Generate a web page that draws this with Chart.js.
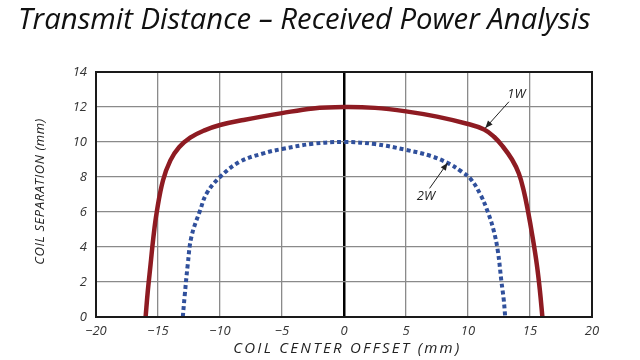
<!DOCTYPE html>
<html>
<head>
<meta charset="utf-8">
<script src="https://cdn.jsdelivr.net/npm/chart.js@4.4.1/dist/chart.umd.min.js"></script>
<style>
  html, body { margin: 0; padding: 0; background: #fff; }
  #wrap { width: 640px; height: 360px; }
</style>
</head>
<body>
<div id="wrap"><canvas id="chart" width="640" height="360"></canvas></div>
<script>
// chart data
const titleText = 'Transmit Distance \u2013 Received Power Analysis';
const xTitle = 'COIL CENTER OFFSET (mm)';
const yTitle = 'COIL SEPARATION (mm)';
const xTicks = [-20, -15, -10, -5, 0, 5, 10, 15, 20];
const yTicks = [0, 2, 4, 6, 8, 10, 12, 14];

// 1W curve (solid red)
const oneWX = [-16, -15.82, -15.6, -15.38, -15.1, -14.6, -14.0, -13.3, -12.4, -11.3, -10, -8.1, -5, -2.5, 0, 2.5, 5, 7.5, 10, 11.3, 12.1, 12.8, 13.55, 14.1, 14.5, 14.85, 15.2, 15.55, 15.8, 16];
const oneWY = [0, 1.5, 3, 4.5, 6, 7.8, 8.95, 9.7, 10.25, 10.65, 10.97, 11.26, 11.65, 11.92, 12, 11.95, 11.75, 11.45, 11.03, 10.72, 10.3, 9.75, 9.0, 8.2, 7.2, 6.0, 4.6, 3, 1.5, 0];

// 2W curve (dotted blue)
const twoWX = [-13, -12.85, -12.6, -12.3, -11.6, -11.07, -10, -8.4, -6.5, -5, -2.5, 0, 2.5, 5, 7, 8.5, 9.5, 10.2, 11, 11.6, 12.05, 12.4, 12.7, 12.88, 13];
const twoWY = [0, 1.2, 3, 4.6, 6.1, 7.07, 8, 8.87, 9.35, 9.6, 9.9, 10, 9.88, 9.55, 9.2, 8.75, 8.3, 7.9, 7, 6, 5, 3.8, 2, 1, 0];

// callout labels: [text, textX, textY, arrowFromX, arrowFromY, arrowToX, arrowToY]
const callouts = [
    ['1W', 13.9, 12.75, 13.3, 12.3, 11.4, 10.8],
    ['2W', 6.6, 6.9, 6.9, 7.35, 8.35, 8.8]
];

const RED = '#8e1b22';
const BLUE = '#30509c';
const FONT = '"Open Sans", "DejaVu Sans", sans-serif';

const toPoints = (xs, ys) => xs.map((x, i) => ({ x: x, y: ys[i] }));

// fit a text to a target width with letter spacing
function spacedText(ctx, text, x, y, targetWidth) {
    ctx.letterSpacing = '0px';
    const w = ctx.measureText(text).width;
    const extra = Math.max(0, (targetWidth - w) / (text.length - 1));
    ctx.letterSpacing = extra.toFixed(2) + 'px';
    ctx.fillText(text, x + extra / 2, y);
    ctx.letterSpacing = '0px';
}

const decorPlugin = {
    id: 'decor',
    beforeDraw(chart) {
        const ctx = chart.ctx;
        ctx.save();
        ctx.fillStyle = '#fff';
        ctx.fillRect(0, 0, chart.width, chart.height);
        ctx.restore();
    },
    afterDatasetsDraw(chart) {
        const ctx = chart.ctx;
        const area = chart.chartArea;
        const xs = chart.scales.x;
        const ys = chart.scales.y;
        ctx.save();

        // frame
        ctx.strokeStyle = '#1a1a1a';
        ctx.lineWidth = 2;
        ctx.strokeRect(area.left, area.top, area.right - area.left, area.bottom - area.top);

        // callouts
        ctx.fillStyle = '#222';
        ctx.strokeStyle = '#222';
        ctx.lineWidth = 1;
        ctx.font = 'italic 13px ' + FONT;
        ctx.textAlign = 'center';
        ctx.textBaseline = 'middle';
        callouts.forEach(c => {
            ctx.fillText(c[0], xs.getPixelForValue(c[1]), ys.getPixelForValue(c[2]));
            const x1 = xs.getPixelForValue(c[3]), y1 = ys.getPixelForValue(c[4]);
            const x2 = xs.getPixelForValue(c[5]), y2 = ys.getPixelForValue(c[6]);
            ctx.beginPath();
            ctx.moveTo(x1, y1);
            ctx.lineTo(x2, y2);
            ctx.stroke();
            const ang = Math.atan2(y2 - y1, x2 - x1);
            ctx.beginPath();
            ctx.moveTo(x2, y2);
            ctx.lineTo(x2 - 8 * Math.cos(ang - 0.4), y2 - 8 * Math.sin(ang - 0.4));
            ctx.lineTo(x2 - 8 * Math.cos(ang + 0.4), y2 - 8 * Math.sin(ang + 0.4));
            ctx.closePath();
            ctx.fill();
        });

        // title
        ctx.textAlign = 'left';
        ctx.textBaseline = 'alphabetic';
        ctx.fillStyle = '#111';
        ctx.font = 'italic 26px ' + FONT;
        const w = ctx.measureText(titleText).width;
        const size = 26 * 572 / w;
        ctx.font = 'italic ' + size.toFixed(1) + 'px ' + FONT;
        ctx.fillText(titleText, 18, 29);

        // axis titles
        ctx.fillStyle = '#222';
        ctx.textAlign = 'left';
        ctx.textBaseline = 'middle';
        ctx.font = 'italic 15px ' + FONT;
        spacedText(ctx, xTitle, 232, 349, 226);
        ctx.translate(40, 265);
        ctx.rotate(-Math.PI / 2);
        ctx.font = 'italic 13px ' + FONT;
        spacedText(ctx, yTitle, 0, 0, 146);
        ctx.restore();
    }
};

new Chart(document.getElementById('chart'), {
    type: 'scatter',
    data: {
        datasets: [
            {
                label: '1W',
                data: toPoints(oneWX, oneWY),
                showLine: true,
                borderColor: RED,
                backgroundColor: RED,
                borderWidth: 4.5,
                pointRadius: 0,
                tension: 0.4,
                borderCapStyle: 'round'
            },
            {
                label: '2W',
                data: toPoints(twoWX, twoWY),
                showLine: true,
                borderColor: BLUE,
                backgroundColor: BLUE,
                borderWidth: 4,
                borderDash: [4, 3],
                pointRadius: 0,
                tension: 0.4
            }
        ]
    },
    options: {
        responsive: false,
        animation: false,
        layout: {
            padding: { top: 72, right: 48, bottom: 0, left: 0 }
        },
        plugins: {
            legend: { display: false },
            tooltip: { enabled: false }
        },
        scales: {
            x: {
                type: 'linear',
                min: -20,
                max: 20,
                afterBuildTicks: (scale) => { scale.ticks = xTicks.map(v => ({ value: v })); },
                afterFit: (scale) => { scale.height = 43; },
                border: { display: false },
                grid: {
                    drawTicks: false,
                    color: (c) => c.tick && c.tick.value === 0 ? '#000' : '#8a8a8a',
                    lineWidth: (c) => c.tick && c.tick.value === 0 ? 2.5 : 1.3
                },
                ticks: {
                    padding: 6,
                    color: '#333',
                    font: { family: FONT, size: 13, style: 'italic' },
                    callback: (v) => String(v).replace('-', '\u2212')
                }
            },
            y: {
                type: 'linear',
                min: 0,
                max: 14,
                afterBuildTicks: (scale) => { scale.ticks = yTicks.map(v => ({ value: v })); },
                afterFit: (scale) => { scale.width = 96; },
                border: { display: false },
                grid: {
                    drawTicks: false,
                    color: '#8a8a8a',
                    lineWidth: 1.3
                },
                ticks: {
                    padding: 9,
                    color: '#333',
                    font: { family: FONT, size: 13, style: 'italic' }
                }
            }
        }
    },
    plugins: [decorPlugin]
});
</script>
</body>
</html>
